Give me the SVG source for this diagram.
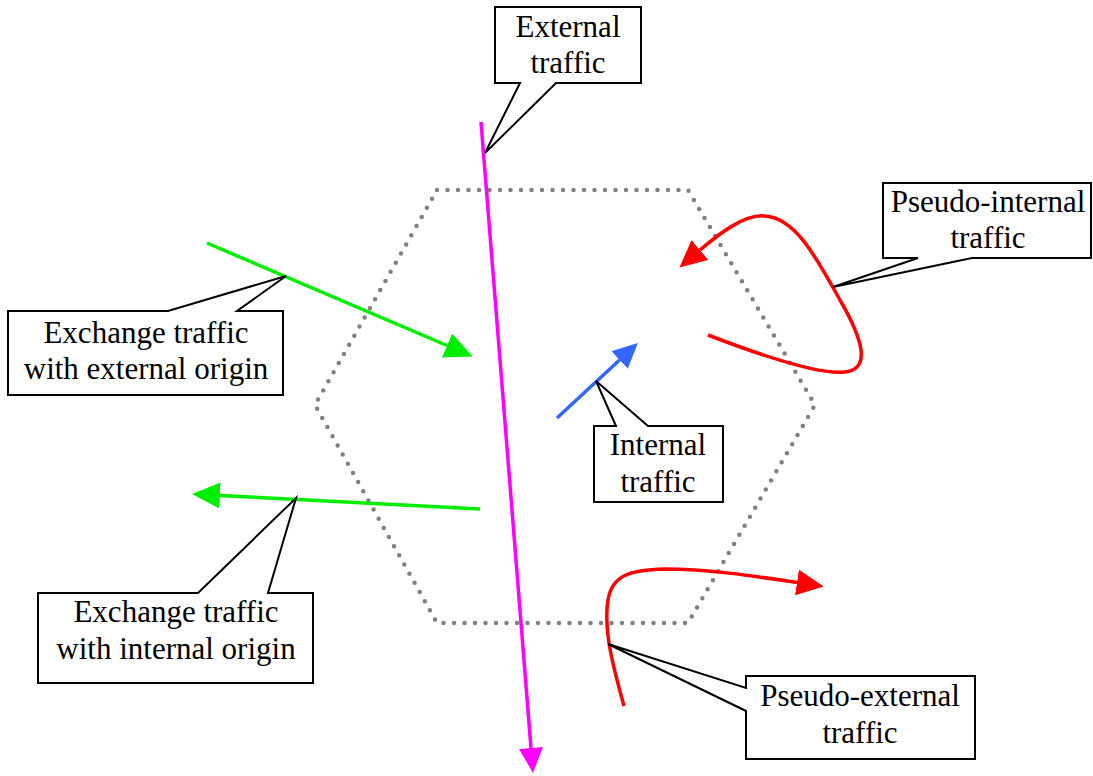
<svg xmlns="http://www.w3.org/2000/svg" width="1093" height="776" viewBox="0 0 1093 776">
<style>
.hex{fill:none;stroke:#808080;stroke-width:4.5;stroke-linecap:round;stroke-dasharray:0 10.5}
.call{fill:#fff;stroke:#000;stroke-width:2}
.t{font-family:"Liberation Serif","Times New Roman",serif;font-size:31px;fill:#000;text-anchor:middle}
.ln{fill:none;stroke-width:3.5}
</style>
<defs>
<marker id="aG" markerUnits="userSpaceOnUse" markerWidth="30" markerHeight="28" refX="0" refY="13" orient="auto"><path d="M0,0 L28,13 L0,26 Z" fill="#00ee00"/></marker>
<marker id="aM" markerUnits="userSpaceOnUse" markerWidth="28" markerHeight="26" refX="0" refY="12" orient="auto"><path d="M0,0 L25,12 L0,24 Z" fill="#ff00ff"/></marker>
<marker id="aB" markerUnits="userSpaceOnUse" markerWidth="28" markerHeight="26" refX="0" refY="12" orient="auto"><path d="M0,0 L25,12 L0,24 Z" fill="#3366ff"/></marker>
<marker id="aR" markerUnits="userSpaceOnUse" markerWidth="30" markerHeight="28" refX="0" refY="13" orient="auto"><path d="M0,0 L27,13 L0,26 Z" fill="#ff0000"/></marker>
</defs>
<rect width="1093" height="776" fill="#fff"/>
<g id="zone">
<polygon class="hex" points="437,190 688,190 815,405 688,623 437,623 315,405"/>
</g>
<g id="connectors">
<path class="ln" stroke="#00ee00" d="M207,243 L447,345.5" marker-end="url(#aG)"/>
<path class="ln" stroke="#00ee00" d="M480,509 L220,495.5" marker-end="url(#aG)"/>
<path class="ln" stroke="#ff00ff" d="M481,122 L531,748" marker-end="url(#aM)"/>
<path class="ln" stroke="#3366ff" d="M557,418 L619.6,360" marker-end="url(#aB)"/>
<path class="ln" stroke="#ff0000" d="M708,335 C760,355 820,375 845,372 C872,369 862,338 840,300 C815,255 795,218 765,216 C745,214 720,233 700,250" marker-end="url(#aR)"/>
<path class="ln" stroke="#ff0000" d="M624,706 C614,670 603,630 608,600 C612,575 630,570 665,569 C710,569 760,577 797,582.5" marker-end="url(#aR)"/>
</g>
<g id="external-traffic">
<path class="call" d="M495,7 H641 V83 H556 L485,153 L520,83 H495 Z"/>
<text class="t" x="568" y="37">External</text>
<text class="t" x="568" y="73">traffic</text>
</g>
<g id="pseudo-internal-traffic">
<path class="call" d="M883,183 H1091 V258 H972 L833,287 L918,258 H883 Z"/>
<text class="t" x="988" y="212">Pseudo-internal</text>
<text class="t" x="988" y="248">traffic</text>
</g>
<g id="exchange-external-origin">
<path class="call" d="M8,311 H168 L286,276 L237,311 H283 V395 H8 Z"/>
<text class="t" x="146" y="343">Exchange traffic</text>
<text class="t" x="146" y="379">with external origin</text>
</g>
<g id="exchange-internal-origin">
<path class="call" d="M38,593 H198 L296,498 L268,593 H313 V683 H38 Z"/>
<text class="t" x="176" y="622">Exchange traffic</text>
<text class="t" x="176" y="659">with internal origin</text>
</g>
<g id="internal-traffic">
<path class="call" d="M594,426 H616 L596,381 L648,426 H723 V502 H594 Z"/>
<text class="t" x="658" y="455">Internal</text>
<text class="t" x="658" y="492">traffic</text>
</g>
<g id="pseudo-external-traffic">
<path class="call" d="M746,676 H975 V759 H746 V711 L608,644 L746,688 Z"/>
<text class="t" x="860" y="706">Pseudo-external</text>
<text class="t" x="860" y="743">traffic</text>
</g>
</svg>
